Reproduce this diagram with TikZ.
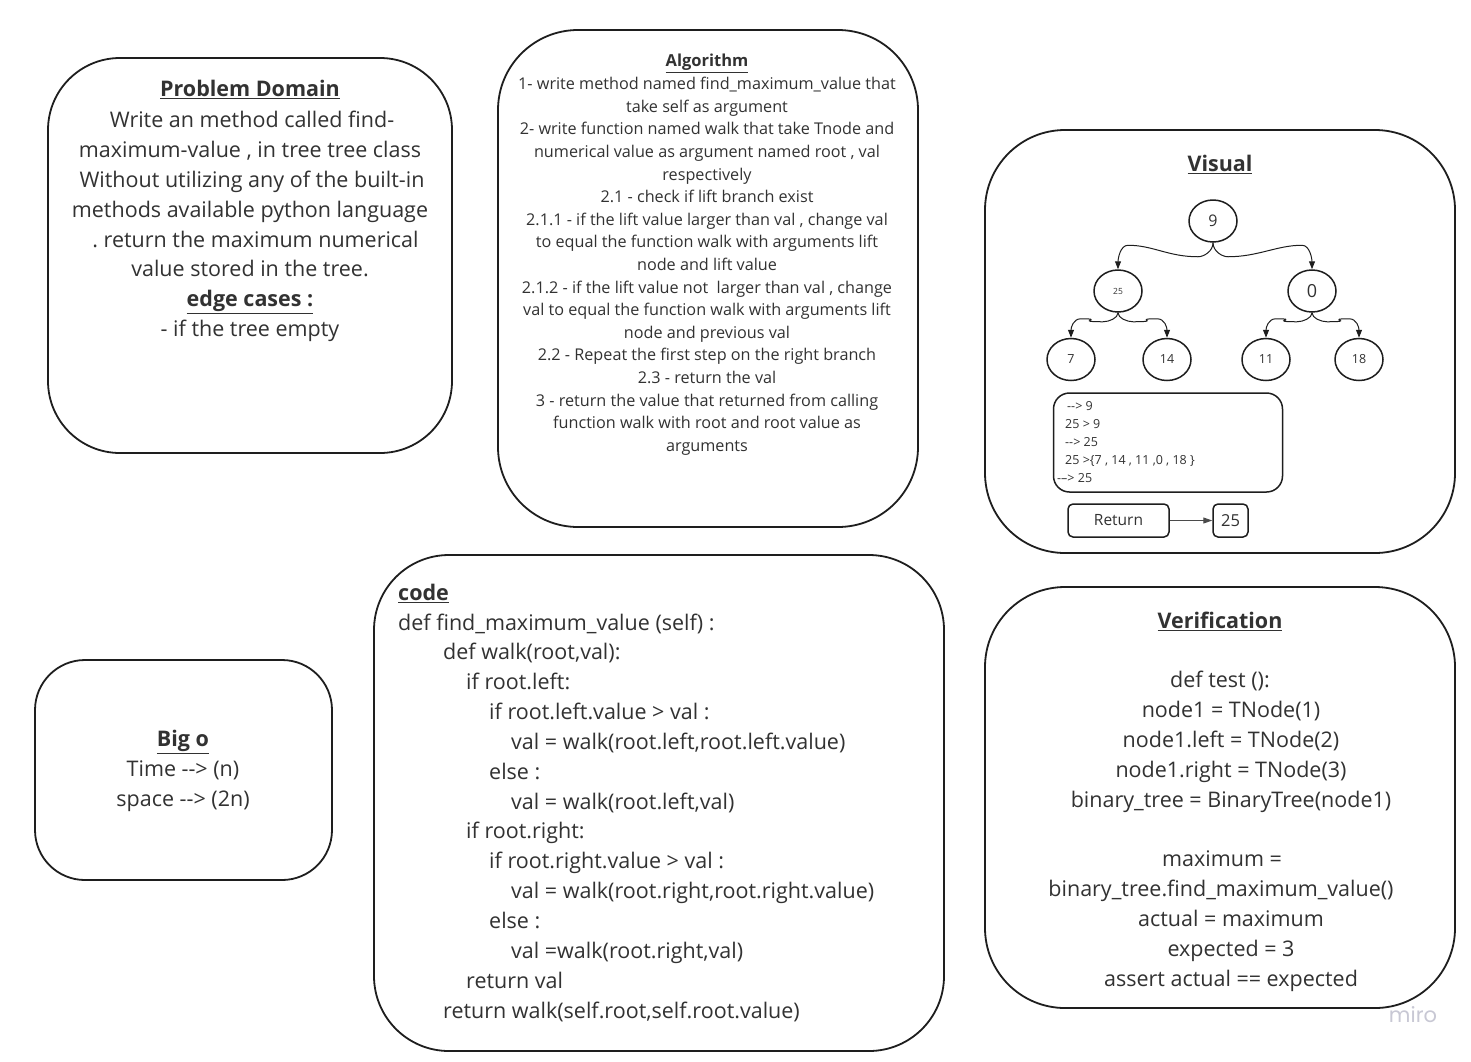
\documentclass[tikz,border=0pt]{standalone}
\usepackage{fontspec}
\setmainfont{Open Sans}
\newfontfamily\logofont{Poppins}
\usetikzlibrary{shapes.geometric,arrows.meta,calc}

\definecolor{ink}{RGB}{30,30,30}
\definecolor{txt}{RGB}{50,50,50}
\definecolor{logo}{RGB}{200,200,212}

% literal double hyphen (no en-dash ligature)
\newcommand\dd{-{}-}

% curly connector from a parent node down to a child node
% #1 parent, #2 child, #3 side (+1 right, -1 left), #4 drop, #5 rise above child
\newcommand\branch[5]{%
  \draw[edge] (#1.south) .. controls +(0,{#4*0.6}) and +({-#3*6},0) .. ($(#1.south)+({#3*15},#4)$)
    .. controls +({#3*30},0) and +({-#3*25},0) .. ($(#2.north)+({-#3*10},-#5)$)
    .. controls +({#3*8},0) and +(0,-10) .. (#2.north);}

\begin{document}
\begin{tikzpicture}[x=1pt,y=-1pt,
  card/.style={draw=ink, line width=1.8pt, rounded corners=#1, inner sep=0pt},
  bigtext/.style={font=\fontsize{21.5}{30}\selectfont, text=txt, inner sep=0pt, anchor=mid, yshift=-6pt},
  codetext/.style={bigtext, anchor=mid west},
  algtext/.style={font=\fontsize{16.2}{22}\selectfont, text=txt, inner sep=0pt, anchor=mid, yshift=-4pt},
  smalltext/.style={font=\fontsize{12.5}{14}\selectfont, text=txt, inner sep=0pt, anchor=mid west, yshift=-3pt},
  leaf/.style={ellipse, draw=ink, line width=1.5pt, minimum width=48pt, minimum height=42pt, inner sep=0pt, text=txt},
  edge/.style={draw=ink, line width=1pt, -{Triangle[length=8pt,width=6pt]}},
]
\useasboundingbox (0,0) rectangle (1471,1061);
\fill[white] (0,0) rectangle (1471,1061);

% ---------- frames ----------
\node[card=72pt, minimum width=404pt, minimum height=395pt] (pd)  at (250,255.5) {};
\node[card=80pt, minimum width=420pt, minimum height=497pt] (alg) at (708,278.5) {};
\node[card=80pt, minimum width=470pt, minimum height=423pt] (vis) at (1220,341.5) {};
\node[card=75pt, minimum width=570pt, minimum height=496pt] (code) at (659,803) {};
\node[card=80pt, minimum width=470pt, minimum height=421pt] (ver) at (1220,797.5) {};
\node[card=50pt, minimum width=297pt, minimum height=220pt] (bigo) at (183.5,770) {};

% ---------- problem domain ----------
\node[bigtext] (pd-t) at (250,88) {\underline{\textbf{Problem Domain}}};
\node[bigtext] (pd-1) at (252,119) {Write an method called find-};
\node[bigtext] (pd-2) at (250,149) {maximum-value , in tree tree class};
\node[bigtext] (pd-3) at (252,179) {Without utilizing any of the built-in};
\node[bigtext] (pd-4) at (250,209) {methods available python language};
\node[bigtext] (pd-5) at (255.5,239) {.\ return the maximum numerical};
\node[bigtext] (pd-6) at (250,268) {value stored in the tree.};
\node[bigtext] (pd-7) at (250,298) {\underline{\textbf{edge cases :}}};
\node[bigtext] (pd-8) at (250,328) {- if the tree empty};

% ---------- algorithm ----------
\node[algtext, font=\fontsize{16.5}{22}\selectfont] (alg-t) at (707,60) {\underline{\textbf{Algorithm}}};
\node[algtext] (alg-1)  at (707,83)    {1- write method named find\_maximum\_value that};
\node[algtext] (alg-2)  at (707,105.6) {take self as argument};
\node[algtext] (alg-3)  at (707,128.2) {2- write function named walk that take Tnode and};
\node[algtext] (alg-4)  at (707,150.8) {numerical value as argument named root , val};
\node[algtext] (alg-5)  at (707,173.4) {respectively};
\node[algtext] (alg-6)  at (707,196)   {2.1 - check if lift branch exist};
\node[algtext] (alg-7)  at (707,218.6) {2.1.1 - if the lift value larger than val , change val};
\node[algtext] (alg-8)  at (707,241.2) {to equal the function walk with arguments lift};
\node[algtext] (alg-9)  at (707,263.8) {node and lift value};
\node[algtext] (alg-10) at (707,286.4) {2.1.2 - if the lift value not\ \ larger than val , change};
\node[algtext] (alg-11) at (707,309)   {val to equal the function walk with arguments lift};
\node[algtext] (alg-12) at (707,331.6) {node and previous val};
\node[algtext] (alg-13) at (707,354.2) {2.2 - Repeat the first step on the right branch};
\node[algtext] (alg-14) at (707,376.8) {2.3 - return the val};
\node[algtext] (alg-15) at (707,399.4) {3 - return the value that returned from calling};
\node[algtext] (alg-16) at (707,422)   {function walk with root and root value as};
\node[algtext] (alg-17) at (707,444.6) {arguments};

% ---------- visual ----------
\node[bigtext] (vis-t) at (1220,163) {\underline{\textbf{Visual}}};
\node[leaf, font=\fontsize{16}{18}\selectfont] (n9)  at (1213,221) {9};
\node[leaf, font=\fontsize{8.5}{10}\selectfont] (n25) at (1118,291) {25};
\node[leaf, font=\fontsize{18}{20}\selectfont] (n0)  at (1312,291) {0};
\node[leaf, font=\fontsize{12.5}{14}\selectfont] (n7)  at (1071,359.5) {7};
\node[leaf, font=\fontsize{12.5}{14}\selectfont] (n14) at (1167,359.5) {14};
\node[leaf, font=\fontsize{12.5}{14}\selectfont] (n11) at (1266,359.5) {11};
\node[leaf, font=\fontsize{12.5}{14}\selectfont] (n18) at (1359,359.5) {18};

\branch{n9}{n25}{-1}{14}{24}
\branch{n9}{n0}{1}{14}{24}
\branch{n25}{n7}{-1}{9}{19}
\branch{n25}{n14}{1}{9}{19}
\branch{n0}{n11}{-1}{9}{19}
\branch{n0}{n18}{1}{9}{19}

\node[card=16pt, line width=1.5pt, minimum width=229pt, minimum height=99pt] (trace) at (1168,442.5) {};
\node[smalltext] (tr-1) at (1067,405) {\dd> 9};
\node[smalltext] (tr-2) at (1065,423) {25 > 9};
\node[smalltext] (tr-3) at (1065,441) {\dd> 25};
\node[smalltext] (tr-4) at (1065,459) {25 >\{7 , 14 , 11 ,0 , 18 \}};
\node[smalltext] (tr-5) at (1057,477) {\dd-> 25};

\node[card=5pt, line width=1.5pt, minimum width=101pt, minimum height=33pt, text=txt,
      font=\fontsize{15.5}{18}\selectfont] (ret) at (1118.5,520.5) {Return};
\node[card=5pt, line width=1.5pt, minimum width=35pt, minimum height=33pt, text=txt,
      font=\fontsize{16.5}{18}\selectfont] (res) at (1230.5,520.5) {25};
\draw[draw=ink!80, line width=1pt, -{Triangle[length=9pt,width=6pt]}] (ret.east) -- (res.west);

% ---------- code ----------
\node[codetext] (code-t) at (398,592) {\underline{\textbf{code}}};
\node[codetext] (code-1)  at (398,622)  {def find\_maximum\_value (self) :};
\node[codetext] (code-2)  at (443,651)  {def walk(root,val):};
\node[codetext] (code-3)  at (466,681)  {if root.left:};
\node[codetext] (code-4)  at (489,711)  {if root.left.value > val :};
\node[codetext] (code-5)  at (511,741)  {val = walk(root.left,root.left.value)};
\node[codetext] (code-6)  at (489,771)  {else :};
\node[codetext] (code-7)  at (511,801)  {val = walk(root.left,val)};
\node[codetext] (code-8)  at (466,830)  {if root.right:};
\node[codetext] (code-9)  at (489,860)  {if root.right.value > val :};
\node[codetext] (code-10) at (511,890)  {val = walk(root.right,root.right.value)};
\node[codetext] (code-11) at (489,920)  {else :};
\node[codetext] (code-12) at (511,950)  {val =walk(root.right,val)};
\node[codetext] (code-13) at (466,980)  {return val};
\node[codetext] (code-14) at (443,1010) {return walk(self.root,self.root.value)};

% ---------- verification ----------
\node[bigtext] (ver-t) at (1220,620) {\underline{\textbf{Verification}}};
\node[bigtext] (ver-1)  at (1220,679) {def test ():};
\node[bigtext] (ver-2)  at (1231,709) {node1 = TNode(1)};
\node[bigtext] (ver-3)  at (1231,739) {node1.left = TNode(2)};
\node[bigtext] (ver-4)  at (1231,769) {node1.right = TNode(3)};
\node[bigtext] (ver-5)  at (1231,799) {binary\_tree = BinaryTree(node1)};
\node[bigtext] (ver-6)  at (1222,858) {maximum =};
\node[bigtext] (ver-7)  at (1221,888) {binary\_tree.find\_maximum\_value()};
\node[bigtext] (ver-8)  at (1231,918) {actual = maximum};
\node[bigtext] (ver-9)  at (1231,948) {expected = 3};
\node[bigtext] (ver-10) at (1231,978) {assert actual == expected};

% ---------- big o ----------
\node[bigtext] (bo-t) at (183,738) {\underline{\textbf{Big o}}};
\node[bigtext] (bo-1) at (183,768) {Time \dd> (n)};
\node[bigtext] (bo-2) at (183,798) {space \dd> (2n)};

% ---------- logo ----------
\node[font=\logofont\fontsize{21}{22}\selectfont, text=logo, inner sep=0pt, anchor=mid] (brand) at (1413,1020) {miro};
\end{tikzpicture}
\end{document}
